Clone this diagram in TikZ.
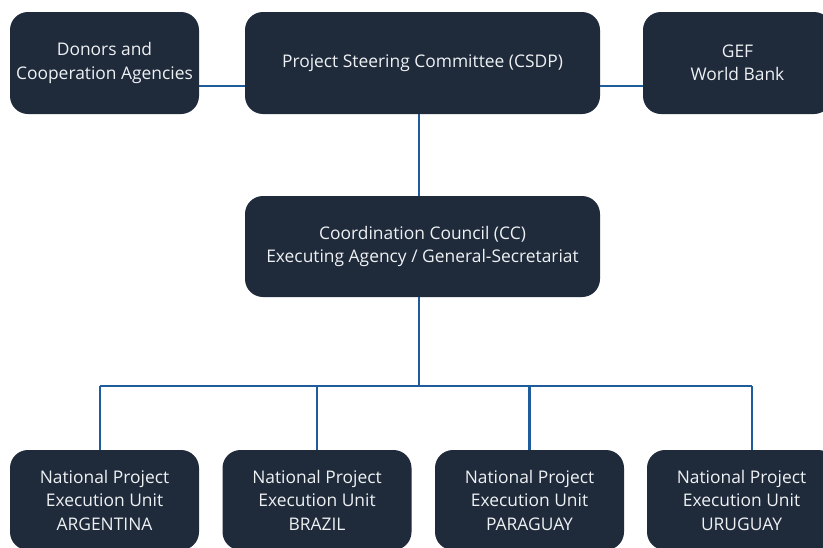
\documentclass[tikz,border=0pt]{standalone}
\usepackage{fontspec}
\setmainfont{Open Sans}
\definecolor{boxfill}{HTML}{1F2A3A}
\definecolor{linkblue}{HTML}{1F5C9C}
\definecolor{txt}{HTML}{EEF1F4}
\begin{document}
\begin{tikzpicture}[x=1pt,y=-1pt,
  orgbox/.style={fill=boxfill, rounded corners=18pt, draw=none, text=txt,
    align=center, inner sep=0pt, font=\fontsize{17.4}{23.5}\selectfont},
  link/.style={draw=linkblue, line width=2.4pt}]
\useasboundingbox (0,0) rectangle (823,547);
\fill[white] (0,0) rectangle (823,547);
\clip (0,0) rectangle (823,547);
% top row
\node[orgbox, minimum width=189pt, minimum height=102pt] (don) at (104.5,63) {Donors and\\Cooperation Agencies};
\node[orgbox, minimum width=355pt, minimum height=102pt] (psc) at (422.5,63) {Project Steering Committee (CSDP)};
\node[orgbox, minimum width=189pt, minimum height=102pt] (gef) at (737.5,63) {GEF\\World Bank};
% middle
\node[orgbox, minimum width=355pt, minimum height=101pt] (cc) at (422.5,246.5) {Coordination Council (CC)\\Executing Agency / General-Secretariat};
% bottom row
\node[orgbox, minimum width=189pt, minimum height=100pt] (arg) at (104.5,500) {National Project\\Execution Unit\\ARGENTINA};
\node[orgbox, minimum width=189pt, minimum height=100pt] (bra) at (317,500) {National Project\\Execution Unit\\BRAZIL};
\node[orgbox, minimum width=189pt, minimum height=100pt] (par) at (529.5,500) {National Project\\Execution Unit\\PARAGUAY};
\node[orgbox, minimum width=189pt, minimum height=100pt] (uru) at (741.5,500) {National Project\\Execution Unit\\URUGUAY};
% coordinates
\coordinate (hy) at (0,86);
\coordinate (bus) at (419,386);
\coordinate (d1) at (100,386);
\coordinate (d2) at (317,386);
\coordinate (d3) at (529.5,386);
\coordinate (d4) at (752,386);
% connectors
\draw[link] (don.east |- hy) -- (psc.west |- hy);
\draw[link] (psc.east |- hy) -- (gef.west |- hy);
\draw[link] (psc.south -| bus) -- (cc.north -| bus);
\draw[link] (cc.south -| bus) -- (bus);
\draw[link] (d1) -- (d4);
\draw[link] (d1) -- (arg.north -| d1);
\draw[link] (d2) -- (bra.north -| d2);
\draw[link] (d3) -- (par.north -| d3);
\draw[link] (d4) -- (uru.north -| d4);
\end{tikzpicture}
\end{document}
